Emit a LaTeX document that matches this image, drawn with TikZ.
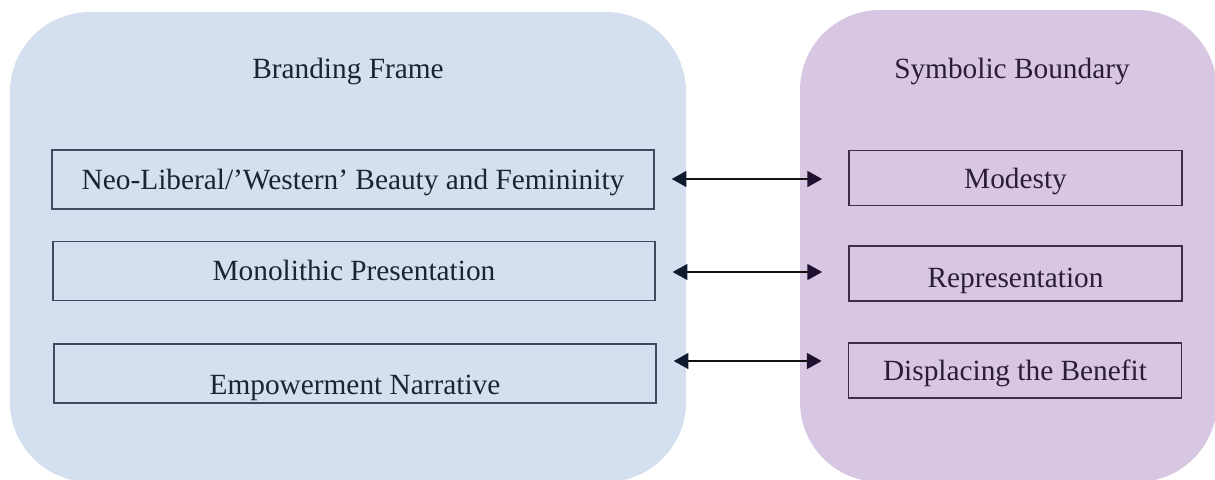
\documentclass[tikz,border=0pt]{standalone}
\usepackage{fontspec}
\setmainfont{Liberation Serif}
\usetikzlibrary{arrows.meta}
\definecolor{bluefill}{RGB}{212,223,240}
\definecolor{purpfill}{RGB}{216,199,227}
\definecolor{blueline}{RGB}{64,74,92}
\definecolor{purpline}{RGB}{60,45,74}
\definecolor{bluetext}{RGB}{28,35,51}
\definecolor{purptext}{RGB}{43,29,58}
\definecolor{bluehead}{RGB}{15,26,46}
\definecolor{purphead}{RGB}{31,16,48}
\tikzset{
  frame/.style={rounded corners=60pt},
  txt/.style={font=\fontsize{22}{26}\selectfont, inner sep=0pt},
  lbox/.style={txt, draw=blueline, line width=1.1pt, text=bluetext, minimum width=451.5pt, minimum height=44pt, text height=18.5pt, text depth=4pt},
  rbox/.style={txt, draw=purpline, line width=1.1pt, text=purptext, minimum width=250pt, minimum height=41.5pt, text height=19.5pt, text depth=4pt},
  link/.style={line width=1.1pt, draw={rgb,255:red,17;green,17;blue,17},
    {Triangle[length=11pt,width=12pt,color=bluehead]}-{Triangle[length=11pt,width=12pt,color=purphead]}}
}
\begin{document}
\begin{tikzpicture}[x=0.75pt,y=-0.75pt]
\useasboundingbox (0,0) rectangle (1215,479);
\clip (0,0) rectangle (1215,479);
\fill[bluefill, frame] (10,12) rectangle (686,482);
\fill[purpfill, frame] (800,10) rectangle (1217,482);
\node[txt, text=bluetext] (bt) at (348,71) {Branding Frame};
\node[txt, text=purptext] (pt) at (1012,71) {Symbolic Boundary};
\node[lbox] (L1) at (353,179.5) {Neo-Liberal/’Western’ Beauty and Femininity};
\node[lbox] (L2) at (354,271) {Monolithic Presentation};
\node[lbox, text height=35pt] (L3) at (355,373.5) {Empowerment Narrative};
\node[rbox] (R1) at (1015.5,178) {Modesty};
\node[rbox, text height=24.5pt] (R2) at (1015.5,273.5) {Representation};
\node[rbox] (R3) at (1015,370.5) {Displacing the Benefit};
\draw[link] ([shift={(17,-0.5)}]L1.east) -- ([shift={(-26,1)}]R1.west);
\draw[link] ([shift={(17,1)}]L2.east) -- ([shift={(-26,-1.5)}]R2.west);
\draw[link] ([shift={(17,-12.5)}]L3.east) -- ([shift={(-26,-9.5)}]R3.west);
\end{tikzpicture}
\end{document}
